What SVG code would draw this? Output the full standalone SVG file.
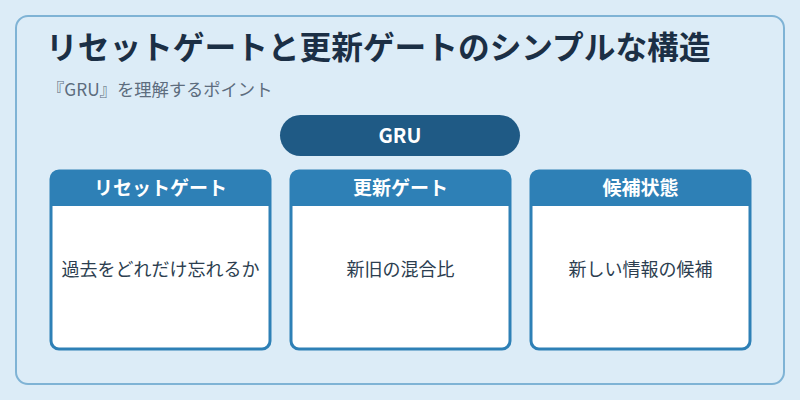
<svg xmlns="http://www.w3.org/2000/svg" width="800" height="400" viewBox="0 0 800 400">
<style>
.jp{font-family:"Noto Sans CJK JP","Noto Sans",sans-serif}
.card{fill:#ffffff;stroke:#2e80b6;stroke-width:3}
.hdr{fill:#2e80b6}
.ht{font-size:19px;font-weight:700;fill:#ffffff;text-anchor:middle}
.bt{font-size:18px;fill:#2c3e50;text-anchor:middle}
</style>
<rect x="0" y="0" width="800" height="400" fill="#dcecf7"/>
<rect x="16" y="16" width="768" height="368" rx="12" fill="#dcecf7" stroke="#7fb3d5" stroke-width="2"/>
<text class="jp" x="46" y="59" font-size="31.7" font-weight="700" fill="#1b2f45">リセットゲートと更新ゲートのシンプルな構造</text>
<text class="jp" x="47" y="96" font-size="17.3" fill="#5d6d7e">『GRU』を理解するポイント</text>
<g id="gru">
<rect x="280" y="115" width="240" height="41" rx="20.5" fill="#1f5a85"/>
<text class="jp" x="400" y="143" font-size="20" font-weight="700" fill="#ffffff" text-anchor="middle">GRU</text>
</g>
<g id="reset">
<rect class="card" x="51" y="171" width="219" height="178" rx="8"/>
<path class="hdr" d="M51 206 V179 A8 8 0 0 1 59 171 H262 A8 8 0 0 1 270 179 V206 Z"/>
<text class="jp ht" x="160.5" y="195">リセットゲート</text>
<text class="jp bt" x="160.5" y="276">過去をどれだけ忘れるか</text>
</g>
<g id="update">
<rect class="card" x="291" y="171" width="219" height="178" rx="8"/>
<path class="hdr" d="M291 206 V179 A8 8 0 0 1 299 171 H502 A8 8 0 0 1 510 179 V206 Z"/>
<text class="jp ht" x="400.5" y="195">更新ゲート</text>
<text class="jp bt" x="400.5" y="276">新旧の混合比</text>
</g>
<g id="candidate">
<rect class="card" x="531" y="171" width="219" height="178" rx="8"/>
<path class="hdr" d="M531 206 V179 A8 8 0 0 1 539 171 H742 A8 8 0 0 1 750 179 V206 Z"/>
<text class="jp ht" x="640.5" y="195">候補状態</text>
<text class="jp bt" x="640.5" y="276">新しい情報の候補</text>
</g>
<g id="connectors"></g>
</svg>
